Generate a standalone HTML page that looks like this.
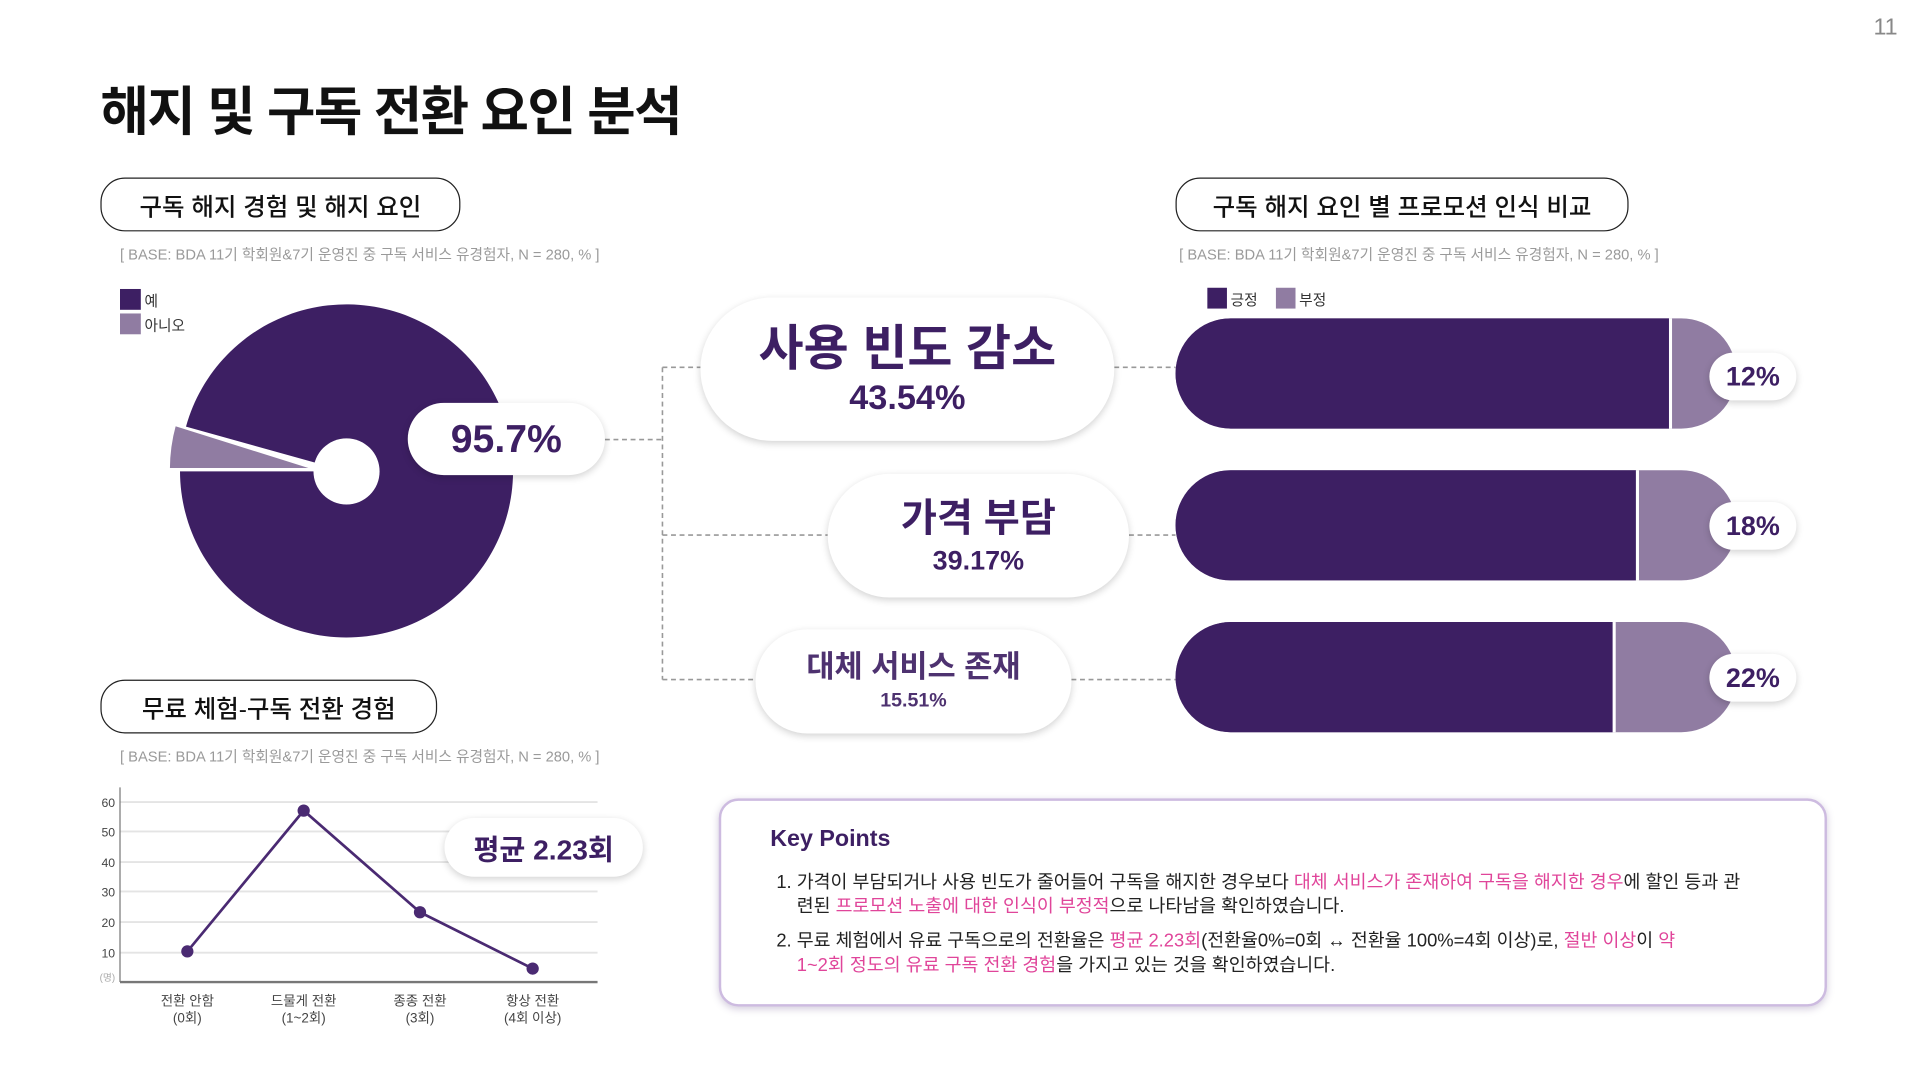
<!DOCTYPE html>
<html><head><meta charset="utf-8">
<style>
html,body{margin:0;padding:0;background:#fff;}
body{width:1920px;height:1080px;overflow:hidden;font-family:"Liberation Sans","Noto Sans CJK KR",sans-serif;}
#w{position:absolute;left:0;top:0;width:1568px;height:882px;transform:scale(1.22449);transform-origin:0 0;}
.a{position:absolute;white-space:nowrap;}
.box{position:absolute;border:1.3px solid #222;border-radius:20px;box-sizing:border-box;display:flex;align-items:center;justify-content:center;font-size:20px;font-weight:500;color:#111;}
.base{position:absolute;font-size:12px;color:#9a9a9a;white-space:nowrap;}
.pill{position:absolute;background:#fff;border-radius:60px;box-shadow:0 2px 6px rgba(0,0,0,0.18);display:flex;flex-direction:column;align-items:center;justify-content:center;color:#3d1f63;font-weight:700;}
.p{color:#e0459a;}
</style></head><body>
<div id="w">
<div class="a" style="left:1530px;top:12px;font-size:19px;color:#888;font-weight:300;">11</div>
<div class="a" style="left:82px;top:57px;font-size:43px;font-weight:700;color:#111;letter-spacing:-1.3px;">해지 및 구독 전환 요인 분석</div>

<div class="box" style="left:82px;top:145px;width:294px;height:44px;">구독 해지 경험 및 해지 요인</div>
<div class="base" style="left:98px;top:199px;">[ BASE: BDA 11기 학회원&amp;7기 운영진 중 구독 서비스 유경험자, N = 280, % ]</div>
<div class="a" style="left:98px;top:236px;width:17px;height:17px;background:#3d1f63;"></div>
<div class="a" style="left:118px;top:237px;font-size:12px;color:#333;">예</div>
<div class="a" style="left:98px;top:256px;width:17px;height:17px;background:#907ca2;"></div>
<div class="a" style="left:118px;top:257px;font-size:12px;color:#333;">아니오</div>

<svg class="a" style="left:0;top:0" width="1568" height="882">
 <path d="M283,385 L147,385 A136,136 0 1 0 151.9,348.4 Z" fill="#3d1f63"/>
 <path d="M257,383 L138,383 A136,136 0 0 1 142.9,347.2 Z" fill="#907ca2" stroke="#fff" stroke-width="1.5"/>
 <circle cx="283" cy="385" r="27" fill="#fff"/>
 <g stroke="#999" stroke-width="1.3" stroke-dasharray="4,3" fill="none">
  <path d="M494,359 H541"/>
  <path d="M541,300 V555"/>
  <path d="M541,300 H572"/>
  <path d="M541,437 H676"/>
  <path d="M541,555 H617"/>
  <path d="M910,300 H960"/>
  <path d="M922,437 H960"/>
  <path d="M875,555 H960"/>
 </g>
 <g>
  <path d="M1005,260 H1373 A45,45 0 0 1 1373,350 H1005 A45,45 0 0 1 1005,260 Z" fill="#907ca2"/>
  <path d="M1005,260 H1363 V350 H1005 A45,45 0 0 1 1005,260 Z" fill="#3d1f63"/>
  <rect x="1363" y="260" width="2.5" height="90" fill="#fff"/>
  <path d="M1005,384 H1373 A45,45 0 0 1 1373,474 H1005 A45,45 0 0 1 1005,384 Z" fill="#907ca2"/>
  <path d="M1005,384 H1336 V474 H1005 A45,45 0 0 1 1005,384 Z" fill="#3d1f63"/>
  <rect x="1336" y="384" width="2.5" height="90" fill="#fff"/>
  <path d="M1005,508 H1373 A45,45 0 0 1 1373,598 H1005 A45,45 0 0 1 1005,508 Z" fill="#907ca2"/>
  <path d="M1005,508 H1317 V598 H1005 A45,45 0 0 1 1005,508 Z" fill="#3d1f63"/>
  <rect x="1317" y="508" width="2.5" height="90" fill="#fff"/>
 </g>
 <g stroke="#e4e4e4" stroke-width="1.5">
  <path d="M98,655 H488 M98,679 H488 M98,704 H488 M98,728 H488 M98,753 H488 M98,778 H488"/>
 </g>
 <path d="M98,643 V802" stroke="#777" stroke-width="1"/>
 <path d="M98,802 H488" stroke="#777" stroke-width="2"/>
 <polyline points="153,777 248,662 343,745 435,791" fill="none" stroke="#4a2a72" stroke-width="2.2"/>
 <g fill="#4a2a72"><circle cx="153" cy="777" r="5"/><circle cx="248" cy="662" r="5"/><circle cx="343" cy="745" r="5"/><circle cx="435" cy="791" r="5"/></g>
 <g font-size="10" fill="#444" text-anchor="end" font-family="Liberation Sans,Noto Sans CJK KR,sans-serif">
  <text x="94" y="659">60</text><text x="94" y="683">50</text><text x="94" y="708">40</text><text x="94" y="732">30</text><text x="94" y="757">20</text><text x="94" y="782">10</text>
  <text x="94" y="801" fill="#aaa" font-size="8">(명)</text>
 </g>
 <g font-size="11" fill="#444" text-anchor="middle" font-family="Liberation Sans,Noto Sans CJK KR,sans-serif">
  <text x="153" y="821">전환 안함</text><text x="153" y="835">(0회)</text>
  <text x="248" y="821">드물게 전환</text><text x="248" y="835">(1~2회)</text>
  <text x="343" y="821">종종 전환</text><text x="343" y="835">(3회)</text>
  <text x="435" y="821">항상 전환</text><text x="435" y="835">(4회 이상)</text>
 </g>
</svg>

<div class="pill" style="left:333px;top:329px;width:161px;height:59px;font-size:32px;">95.7%</div>
<div class="pill" style="left:572px;top:243px;width:338px;height:117px;"><div style="font-size:40px;line-height:46px;">사용 빈도 감소</div><div style="font-size:28px;line-height:34px;">43.54%</div></div>
<div class="pill" style="left:676px;top:387px;width:246px;height:101px;"><div style="font-size:32px;line-height:40px;">가격 부담</div><div style="font-size:22px;line-height:30px;">39.17%</div></div>
<div class="pill" style="left:617px;top:514px;width:258px;height:85px;color:#4e3270;"><div style="font-size:25px;line-height:32px;">대체 서비스 존재</div><div style="font-size:16px;line-height:24px;">15.51%</div></div>

<div class="box" style="left:960px;top:145px;width:370px;height:44px;">구독 해지 요인 별 프로모션 인식 비교</div>
<div class="base" style="left:963px;top:199px;">[ BASE: BDA 11기 학회원&amp;7기 운영진 중 구독 서비스 유경험자, N = 280, % ]</div>
<div class="a" style="left:986px;top:235px;width:16px;height:17px;background:#3d1f63;"></div>
<div class="a" style="left:1005px;top:236px;font-size:12px;color:#333;">긍정</div>
<div class="a" style="left:1042px;top:235px;width:16px;height:17px;background:#907ca2;"></div>
<div class="a" style="left:1061px;top:236px;font-size:12px;color:#333;">부정</div>
<div class="pill" style="left:1396px;top:288px;width:71px;height:39px;font-size:22px;">12%</div>
<div class="pill" style="left:1396px;top:410px;width:71px;height:39px;font-size:22px;">18%</div>
<div class="pill" style="left:1396px;top:534px;width:71px;height:39px;font-size:22px;">22%</div>

<div class="box" style="left:82px;top:555px;width:275px;height:44px;">무료 체험-구독 전환 경험</div>
<div class="base" style="left:98px;top:609px;">[ BASE: BDA 11기 학회원&amp;7기 운영진 중 구독 서비스 유경험자, N = 280, % ]</div>
<div class="pill" style="left:363px;top:668px;width:162px;height:48px;font-size:23px;">평균 2.23회</div>

<div class="a" style="left:587px;top:652px;width:905px;height:170px;box-sizing:border-box;border:2px solid #cdbbe0;border-radius:16px;box-shadow:0 2px 6px rgba(80,50,120,0.25);background:#fff;"></div>
<div class="a" style="left:629px;top:675px;font-size:19px;font-weight:700;color:#3d1f63;">Key Points</div>
<div class="a" style="left:634px;top:711px;font-size:15px;line-height:20px;color:#222;">1. 가격이 부담되거나 사용 빈도가 줄어들어 구독을 해지한 경우보다 <span class="p">대체 서비스가 존재하여 구독을 해지한 경우</span>에 할인 등과 관<br>&nbsp;&nbsp;&nbsp;&nbsp;련된 <span class="p">프로모션 노출에 대한 인식이 부정적</span>으로 나타남을 확인하였습니다.</div>
<div class="a" style="left:634px;top:759px;font-size:15px;line-height:20px;color:#222;">2. 무료 체험에서 유료 구독으로의 전환율은 <span class="p">평균 2.23회</span>(전환율0%=0회 ↔ 전환율 100%=4회 이상)로, <span class="p">절반 이상</span>이 <span class="p">약</span><br>&nbsp;&nbsp;&nbsp;&nbsp;<span class="p">1~2회 정도의 유료 구독 전환 경험</span>을 가지고 있는 것을 확인하였습니다.</div>
</div>
</body></html>
